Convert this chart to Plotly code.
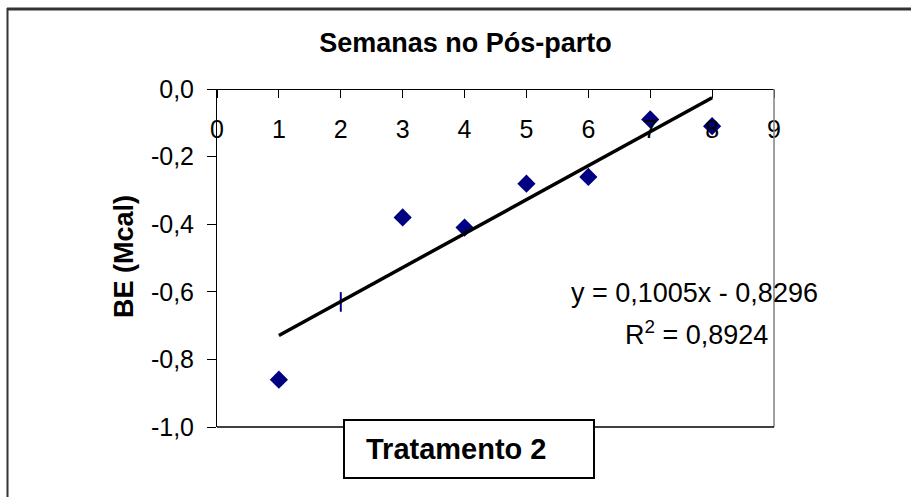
import numpy as np
import plotly.graph_objects as go

# ---- data ----
semanas = [1, 2, 3, 4, 5, 6, 7, 8]
be_mcal = [-0.86, -0.63, -0.38, -0.41, -0.28, -0.26, -0.09, -0.11]
diamond_idx = [0, 2, 3, 4, 5, 6, 7]
dash_idx = [1]
x_ticks = [0, 1, 2, 3, 4, 5, 6, 7, 8, 9]
x_ticktext = ["0", "1", "2", "3", "4", "5", "6", "7", "8", "9"]
y_ticks = [0.0, -0.2, -0.4, -0.6, -0.8, -1.0]
y_ticktext = ["0,0", "-0,2", "-0,4", "-0,6", "-0,8", "-1,0"]
title_text = "Semanas no Pós-parto"
y_title = "BE (Mcal)"
eq_text = "y = 0,1005x - 0,8296"
r2_text = "R<sup>2</sup> = 0,8924"
legend_text = "Tratamento 2"

# trend line from linear fit
slope, intercept = np.polyfit(semanas, be_mcal, 1)
trend_x = [semanas[0], semanas[-1]]
trend_y = [slope * v + intercept for v in trend_x]

W, H = 911, 497
L, R, T, B = 217, 137, 89, 70
PW, PH = W - L - R, H - T - B

def px(p):  # pixel x -> paper
    return (p - L) / PW

def py(p):  # pixel y -> paper
    return (H - B - p) / PH

NAVY = "#000080"
FONT = "Liberation Sans, Arial, sans-serif"

fig = go.Figure()
fig.add_trace(go.Scatter(
    x=[semanas[i] for i in diamond_idx], y=[be_mcal[i] for i in diamond_idx],
    mode="markers", marker=dict(symbol="diamond", size=14, color=NAVY),
    showlegend=False, cliponaxis=False))
fig.add_trace(go.Scatter(
    x=[semanas[i] for i in dash_idx], y=[be_mcal[i] for i in dash_idx],
    mode="markers", marker=dict(symbol="line-ns", size=14,
                                line=dict(color=NAVY, width=2)),
    showlegend=False, cliponaxis=False))
fig.add_trace(go.Scatter(
    x=trend_x, y=trend_y, mode="lines",
    line=dict(color="black", width=3.5), showlegend=False))

fig.update_layout(
    width=W, height=H,
    margin=dict(l=L, r=R, t=T, b=B, autoexpand=False),
    paper_bgcolor="white", plot_bgcolor="white",
    font=dict(family=FONT, color="black", size=25),
    title=dict(text="<b>" + title_text + "</b>", xref="container", yref="container",
               x=465.5 / W, y=1 - 43 / H, xanchor="center", yanchor="middle",
               font=dict(size=27, family=FONT, color="black")),
    xaxis=dict(range=[0, 9], side="bottom", anchor="free", position=1,
               tickvals=x_ticks, ticktext=x_ticktext,
               ticks="outside", ticklen=8, tickcolor="black", tickwidth=1,
               ticklabelstandoff=10, automargin=False,
               showline=True, linecolor="black", linewidth=1,
               showgrid=False, zeroline=False,
               tickfont=dict(size=25, family=FONT, color="black")),
    yaxis=dict(range=[-1, 0], domain=[0, 1], tickvals=y_ticks, ticktext=y_ticktext,
               ticks="outside", ticklen=9, tickcolor="black", tickwidth=1,
               ticklabelstandoff=8,
               showline=True, linecolor="black", linewidth=1, automargin=False,
               showgrid=False, zeroline=False,
               tickfont=dict(size=25, family=FONT, color="black")),
    shapes=[
        # plot area right (gray) and bottom (black) borders
        dict(type="line", xref="paper", yref="paper", x0=1, x1=1, y0=0, y1=1,
             line=dict(color="#808080", width=1.5)),
        dict(type="line", xref="paper", yref="paper", x0=0, x1=1, y0=0, y1=0,
             line=dict(color="black", width=1.5)),
        # outer chart border (top and left)
        dict(type="line", xref="paper", yref="paper", x0=px(7), x1=px(940),
             y0=py(9), y1=py(9), line=dict(color="#333333", width=3)),
        dict(type="line", xref="paper", yref="paper", x0=px(7.5), x1=px(7.5),
             y0=py(8), y1=py(520), line=dict(color="#333333", width=2)),
        # legend box
        dict(type="rect", xref="paper", yref="paper", layer="above",
             x0=px(344), x1=px(594), y0=py(478), y1=py(420),
             fillcolor="white", line=dict(color="black", width=2)),
    ],
    annotations=[
        dict(text="<b>" + y_title + "</b>", xref="paper", yref="paper",
             x=px(124), y=py(257), textangle=-90, showarrow=False,
             xanchor="center", yanchor="middle",
             font=dict(size=27, family=FONT, color="black")),
        dict(text=eq_text, xref="paper", yref="paper", x=px(694), y=py(293),
             showarrow=False, xanchor="center", yanchor="middle",
             font=dict(size=27, family=FONT, color="black")),
        dict(text=r2_text, xref="paper", yref="paper", x=px(696), y=py(333),
             showarrow=False, xanchor="center", yanchor="middle",
             font=dict(size=27, family=FONT, color="black")),
        dict(text="<b>" + legend_text + "</b>", xref="paper", yref="paper",
             x=px(456.5), y=py(449), showarrow=False,
             xanchor="center", yanchor="middle",
             font=dict(size=29, family=FONT, color="black")),
    ],
)

fig.write_html("out.html", config={"displayModeBar": False},
               post_script="document.body.style.margin='0px';")
